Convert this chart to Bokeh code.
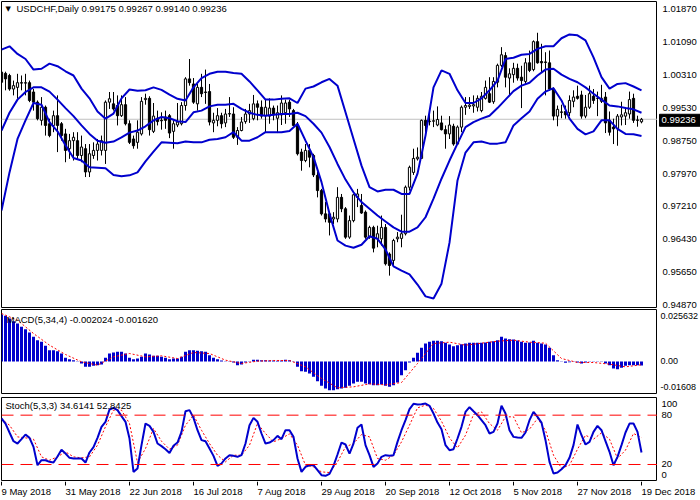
from bokeh.plotting import figure
from bokeh.layouts import column, row
from bokeh.models import Span, Label, Range1d, ColumnDataSource
from bokeh.core.properties import value
from bokeh.embed import file_html
from bokeh.resources import INLINE

# ---------------- data ----------------
open_ = [1.0035, 1.0032, 1.0027, 0.9995, 0.9999, 1.0010, 1.0009, 1.0010, 0.9988, 0.9964,
         0.9921, 0.9952, 0.9913, 0.9909, 0.9932, 0.9913, 0.9889, 0.9854, 0.9873, 0.9873,
         0.9838, 0.9854, 0.9799, 0.9838, 0.9850, 0.9850, 0.9850, 0.9964, 0.9960, 0.9956,
         0.9932, 0.9958, 0.9913, 0.9877, 0.9869, 0.9889, 0.9970, 0.9973, 0.9895, 0.9926,
         0.9921, 0.9929, 0.9932, 0.9895, 0.9910, 0.9913, 0.9956, 1.0019, 1.0007, 0.9960,
         0.9999, 0.9988, 0.9989, 0.9915, 0.9921, 0.9932, 0.9915, 0.9936, 0.9936, 0.9881,
         0.9897, 0.9918, 0.9936, 0.9925, 0.9960, 0.9952, 0.9932, 0.9931, 0.9950, 0.9926,
         0.9934, 0.9939, 0.9964, 0.9944, 0.9909, 0.9846, 0.9826, 0.9850, 0.9838, 0.9791,
         0.9755, 0.9700, 0.9700, 0.9688, 0.9688, 0.9739, 0.9712, 0.9645, 0.9684, 0.9739,
         0.9720, 0.9704, 0.9645, 0.9668, 0.9641, 0.9641, 0.9668, 0.9605, 0.9590, 0.9641,
         0.9642, 0.9653, 0.9763, 0.9798, 0.9830, 0.9831, 0.9921, 0.9918, 0.9919, 0.9910,
         0.9915, 0.9899, 0.9889, 0.9907, 0.9865, 0.9905, 0.9952, 0.9954, 0.9955, 0.9952,
         0.9944, 0.9973, 0.9984, 0.9965, 1.0011, 1.0051, 1.0074, 1.0021, 1.0029, 1.0044,
         1.0023, 1.0013, 1.0057, 1.0041, 1.0107, 1.0060, 1.0059, 1.0057, 0.9995, 0.9931,
         0.9941, 0.9942, 0.9939, 0.9966, 0.9978, 0.9981, 0.9931, 0.9952, 0.9978, 0.9973,
         0.9966, 0.9976, 0.9921, 0.9905, 0.9901, 0.9929, 0.9931, 0.9936, 0.9973, 0.9922,
         0.99175]
high_ = [1.0052, 1.0036, 1.0031, 1.0015, 1.0031, 1.0027, 1.0031, 1.0015, 0.9995, 0.9968,
         0.9976, 0.9956, 0.9925, 0.9944, 0.9980, 0.9917, 0.9901, 0.9889, 0.9893, 0.9893,
         0.9885, 0.9865, 0.9865, 0.9869, 0.9877, 0.9885, 0.9968, 0.9988, 0.9988, 0.9980,
         0.9980, 0.9976, 0.9921, 0.9885, 0.9921, 0.9976, 0.9984, 0.9978, 0.9962, 0.9944,
         0.9940, 0.9944, 0.9936, 0.9921, 0.9962, 0.9964, 1.0023, 1.0066, 1.0021, 1.0007,
         1.0031, 1.0041, 1.0007, 0.9939, 0.9950, 0.9939, 0.9948, 0.9976, 0.9952, 0.9905,
         0.9929, 0.9948, 0.9960, 0.9981, 0.9968, 0.9968, 0.9970, 0.9973, 0.9956, 0.9956,
         0.9980, 0.9970, 0.9970, 0.9948, 0.9917, 0.9854, 0.9865, 0.9865, 0.9842, 0.9799,
         0.9759, 0.9728, 0.9704, 0.9704, 0.9763, 0.9747, 0.9716, 0.9696, 0.9747, 0.9759,
         0.9747, 0.9708, 0.9672, 0.9672, 0.9672, 0.9696, 0.9676, 0.9609, 0.9641, 0.9657,
         0.9698, 0.9767, 0.9814, 0.9854, 0.9857, 0.9923, 0.9932, 0.9940, 0.9944, 0.9954,
         0.9932, 0.9909, 0.9931, 0.9913, 0.9909, 0.9956, 0.9976, 0.9976, 0.9980, 0.9980,
         0.9988, 1.0015, 1.0023, 1.0023, 1.0055, 1.0094, 1.0082, 1.0044, 1.0057, 1.0055,
         1.0050, 1.0068, 1.0086, 1.0110, 1.0128, 1.0102, 1.0082, 1.0086, 0.9999, 0.9956,
         0.9958, 0.9956, 0.9980, 0.9992, 1.0003, 0.9991, 0.9981, 1.0003, 0.9995, 0.9989,
         1.0005, 0.9988, 0.9942, 0.9925, 0.9936, 0.9965, 0.9952, 0.9989, 0.9984, 0.9932,
         0.99267]
low_ = [0.9999, 0.9992, 0.9991, 0.9980, 0.9972, 0.9992, 0.9980, 0.9964, 0.9944, 0.9921,
        0.9909, 0.9885, 0.9881, 0.9893, 0.9846, 0.9873, 0.9822, 0.9830, 0.9826, 0.9830,
        0.9822, 0.9787, 0.9787, 0.9830, 0.9826, 0.9838, 0.9818, 0.9948, 0.9944, 0.9909,
        0.9929, 0.9909, 0.9865, 0.9854, 0.9854, 0.9885, 0.9958, 0.9885, 0.9891, 0.9909,
        0.9899, 0.9901, 0.9879, 0.9854, 0.9905, 0.9909, 0.9944, 1.0003, 0.9960, 0.9944,
        0.9976, 0.9960, 0.9909, 0.9893, 0.9907, 0.9902, 0.9905, 0.9929, 0.9877, 0.9863,
        0.9895, 0.9913, 0.9915, 0.9921, 0.9921, 0.9925, 0.9893, 0.9913, 0.9921, 0.9891,
        0.9910, 0.9913, 0.9929, 0.9907, 0.9838, 0.9802, 0.9822, 0.9810, 0.9787, 0.9739,
        0.9696, 0.9680, 0.9649, 0.9676, 0.9680, 0.9704, 0.9641, 0.9641, 0.9680, 0.9716,
        0.9700, 0.9641, 0.9641, 0.9609, 0.9621, 0.9625, 0.9578, 0.9554, 0.9578, 0.9633,
        0.9621, 0.9649, 0.9755, 0.9792, 0.9826, 0.9830, 0.9885, 0.9909, 0.9905, 0.9907,
        0.9897, 0.9854, 0.9877, 0.9861, 0.9863, 0.9893, 0.9934, 0.9948, 0.9939, 0.9942,
        0.9940, 0.9970, 0.9962, 0.9960, 0.9999, 1.0047, 0.9999, 0.9980, 1.0010, 1.0015,
        0.9950, 1.0007, 1.0035, 1.0037, 1.0055, 1.0035, 0.9980, 0.9991, 0.9921, 0.9907,
        0.9926, 0.9925, 0.9931, 0.9952, 0.9970, 0.9925, 0.9926, 0.9948, 0.9960, 0.9931,
        0.9962, 0.9891, 0.9885, 0.9865, 0.9861, 0.9909, 0.9910, 0.9925, 0.9915, 0.9906,
        0.99140]
close_ = [1.0011, 1.0019, 0.9995, 1.0003, 1.0010, 1.0009, 1.0010, 0.9968, 0.9964, 0.9925,
          0.9952, 0.9909, 0.9885, 0.9932, 0.9909, 0.9885, 0.9850, 0.9873, 0.9881, 0.9838,
          0.9858, 0.9799, 0.9842, 0.9850, 0.9865, 0.9873, 0.9964, 0.9972, 0.9948, 0.9932,
          0.9958, 0.9913, 0.9869, 0.9861, 0.9893, 0.9966, 0.9973, 0.9899, 0.9931, 0.9918,
          0.9920, 0.9921, 0.9891, 0.9913, 0.9917, 0.9956, 1.0019, 1.0010, 0.9964, 0.9999,
          0.9984, 0.9987, 0.9917, 0.9921, 0.9932, 0.9913, 0.9936, 0.9937, 0.9881, 0.9897,
          0.9917, 0.9936, 0.9944, 0.9960, 0.9952, 0.9931, 0.9952, 0.9950, 0.9934, 0.9939,
          0.9962, 0.9962, 0.9948, 0.9909, 0.9842, 0.9826, 0.9850, 0.9834, 0.9792, 0.9755,
          0.9700, 0.9688, 0.9680, 0.9692, 0.9739, 0.9712, 0.9645, 0.9684, 0.9745, 0.9747,
          0.9702, 0.9645, 0.9668, 0.9619, 0.9653, 0.9668, 0.9582, 0.9578, 0.9637, 0.9645,
          0.9653, 0.9763, 0.9810, 0.9831, 0.9834, 0.9921, 0.9909, 0.9919, 0.9920, 0.9923,
          0.9899, 0.9889, 0.9910, 0.9865, 0.9905, 0.9952, 0.9956, 0.9957, 0.9958, 0.9973,
          0.9978, 0.9999, 0.9964, 1.0013, 1.0051, 1.0076, 1.0023, 1.0031, 1.0044, 1.0021,
          1.0015, 1.0057, 1.0039, 1.0107, 1.0057, 1.0057, 1.0058, 0.9995, 0.9931, 0.9947,
          0.9940, 0.9934, 0.9968, 0.9976, 0.9973, 0.9931, 0.9952, 0.9984, 0.9968, 0.9973,
          0.9973, 0.9915, 0.9893, 0.9901, 0.9931, 0.9934, 0.9939, 0.9970, 0.9921, 0.9921,
          0.99236]

# Bollinger bands, read at every second bar
bb_upper = [1.0088, 1.0096, 1.0078, 1.0066, 1.0041, 1.0043, 1.0055, 1.0049, 1.0037, 1.0027,
            0.9996, 0.9973, 0.9942, 0.9925, 0.9937, 0.9973, 0.9994, 0.9991, 0.9992, 0.9999,
            0.9993, 0.9982, 0.9972, 0.9968, 0.9999, 1.0021, 1.0031, 1.0036, 1.0036, 1.0033,
            1.0031, 1.0013, 0.9992, 0.9970, 0.9970, 0.9972, 0.9973, 0.9962, 0.9996, 1.0001,
            1.0011, 1.0019, 1.0003, 0.9940, 0.9877, 0.9814, 0.9763, 0.9753, 0.9757, 0.9757,
            0.9747, 0.9747, 0.9795, 0.9885, 0.9999, 1.0039, 1.0031, 0.9992, 0.9962, 0.9962,
            0.9973, 0.9992, 1.0015, 1.0066, 1.0069, 1.0076, 1.0078, 1.0090, 1.0096, 1.0096,
            1.0115, 1.0124, 1.0122, 1.0110, 1.0070, 1.0023, 0.9996, 1.0007, 1.0009, 1.0001,
            0.9992]
bb_middle = [0.9897, 0.9939, 0.9970, 0.9988, 0.9999, 0.9999, 0.9989, 0.9970, 0.9950, 0.9931,
             0.9909, 0.9889, 0.9873, 0.9868, 0.9871, 0.9881, 0.9892, 0.9897, 0.9907, 0.9921,
             0.9929, 0.9926, 0.9919, 0.9917, 0.9940, 0.9944, 0.9954, 0.9958, 0.9958, 0.9960,
             0.9948, 0.9939, 0.9934, 0.9932, 0.9934, 0.9936, 0.9936, 0.9939, 0.9931, 0.9913,
             0.9892, 0.9858, 0.9818, 0.9781, 0.9751, 0.9728, 0.9712, 0.9696, 0.9682, 0.9668,
             0.9658, 0.9658, 0.9668, 0.9692, 0.9736, 0.9783, 0.9826, 0.9866, 0.9905, 0.9917,
             0.9925, 0.9932, 0.9950, 0.9970, 0.9990, 1.0003, 1.0010, 1.0027, 1.0041, 1.0043,
             1.0029, 1.0019, 1.0011, 0.9999, 0.9984, 0.9970, 0.9956, 0.9954, 0.9950, 0.9947,
             0.9939]
bb_lower = [0.9708, 0.9798, 0.9877, 0.9921, 0.9962, 0.9958, 0.9917, 0.9895, 0.9862, 0.9832,
            0.9826, 0.9810, 0.9809, 0.9808, 0.9792, 0.9789, 0.9791, 0.9798, 0.9824, 0.9847,
            0.9869, 0.9868, 0.9867, 0.9871, 0.9869, 0.9869, 0.9875, 0.9877, 0.9881, 0.9893,
            0.9873, 0.9873, 0.9881, 0.9893, 0.9893, 0.9893, 0.9896, 0.9913, 0.9873, 0.9834,
            0.9775, 0.9700, 0.9637, 0.9625, 0.9620, 0.9627, 0.9647, 0.9641, 0.9616, 0.9576,
            0.9566, 0.9557, 0.9533, 0.9505, 0.9500, 0.9535, 0.9632, 0.9779, 0.9845, 0.9869,
            0.9871, 0.9866, 0.9866, 0.9869, 0.9909, 0.9926, 0.9942, 0.9972, 0.9989, 0.9997,
            0.9968, 0.9925, 0.9901, 0.9888, 0.9895, 0.9921, 0.9921, 0.9901, 0.9889, 0.9888,
            0.9884]

macd_main = [0.02334, 0.02267, 0.02135, 0.02003, 0.01887, 0.01721, 0.01605, 0.01440, 0.01225, 0.01059,
             0.00976, 0.00778, 0.00563, 0.00563, 0.00513, 0.00397, 0.00182, 0.00116, 0.00066, -0.00017,
             -0.00099, -0.00265, -0.00265, -0.00215, -0.00182, -0.00149, 0.00182, 0.00397, 0.00447, 0.00480,
             0.00480, 0.00397, 0.00182, 0.00116, 0.00149, 0.00232, 0.00397, 0.00348, 0.00281, 0.00281,
             0.00232, 0.00182, 0.00116, 0.00149, 0.00149, 0.00232, 0.00480, 0.00563, 0.00563, 0.00530,
             0.00513, 0.00480, 0.00314, 0.00182, 0.00116, 0.00050, 0.00017, 0.00017, -0.00050, -0.00182,
             -0.00149, -0.00050, -0.00017, 0.00083, 0.00083, 0.00066, 0.00066, 0.00050, 0.00050, 0.00033,
             0.00050, 0.00083, 0.00066, -0.00017, -0.00265, -0.00480, -0.00513, -0.00596, -0.00761, -0.00976,
             -0.01208, -0.01341, -0.01423, -0.01423, -0.01374, -0.01341, -0.01307, -0.01208, -0.01092, -0.01010,
             -0.01010, -0.01092, -0.01125, -0.01175, -0.01175, -0.01142, -0.01208, -0.01258, -0.01175, -0.01043,
             -0.00679, -0.00430, -0.00050, 0.00182, 0.00430, 0.00679, 0.00894, 0.00976, 0.01026, 0.01026,
             0.01010, 0.00927, 0.00844, 0.00761, 0.00811, 0.00861, 0.00894, 0.00927, 0.00927, 0.00927,
             0.00927, 0.00943, 0.00976, 0.01010, 0.01059, 0.01225, 0.01142, 0.01109, 0.01092, 0.01043,
             0.00976, 0.00927, 0.00943, 0.01026, 0.00927, 0.00894, 0.00844, 0.00679, 0.00314, 0.00066,
             -0.00017, -0.00066, -0.00033, -0.00017, -0.00050, -0.00099, -0.00050, -0.00017, -0.00017, -0.00017,
             -0.00017, -0.00099, -0.00182, -0.00348, -0.00381, -0.00314, -0.00215, -0.00182, -0.00182, -0.00182,
             -0.002024]
# MACD signal, read at every fourth bar
macd_signal = [0.02383, 0.02052, 0.01390, 0.00811, 0.00348, -0.00017, -0.00182, 0.00232, 0.00397, 0.00232,
               0.00281, 0.00149, 0.00447, 0.00397, 0.00066, -0.00099, 0.00017, 0.00050, 0.00050, -0.00265,
               -0.00844, -0.01307, -0.01258, -0.01109, -0.01159, -0.01043, -0.00099, 0.00894, 0.00960, 0.00811,
               0.00910, 0.01010, 0.01059, 0.00960, 0.00910, 0.00149, -0.00050, -0.00050, -0.00132, -0.00265,
               -0.00162]

stoch_k = [76.0, 69.8, 58.9, 48.3, 45.5, 50.8, 56.4, 52.4, 41.4, 19.1,
           25.2, 25.2, 23.2, 22.4, 29.7, 37.8, 33.3, 28.1, 27.3, 27.3,
           27.3, 22.4, 34.6, 41.0, 52.4, 65.8, 71.9, 86.9, 88.9, 86.1,
           78.8, 71.9, 51.6, 11.0, 15.1, 43.5, 69.8, 67.0, 59.7, 45.5,
           42.3, 38.6, 34.1, 42.7, 46.7, 59.7, 84.8, 86.1, 76.7, 61.7,
           49.6, 48.3, 39.4, 30.5, 18.3, 21.2, 27.3, 31.3, 30.5, 29.3,
           31.3, 45.5, 67.8, 76.7, 71.9, 57.7, 45.5, 46.7, 49.6, 54.8,
           50.8, 61.7, 61.7, 53.6, 27.3, 11.0, 17.1, 19.1, 19.1, 13.1,
           7.0, 6.2, 8.6, 18.3, 32.1, 46.7, 44.3, 33.3, 45.5, 64.6,
           68.6, 43.5, 31.3, 17.1, 21.2, 29.3, 31.3, 30.5, 31.3, 47.5,
           61.7, 73.9, 87.3, 93.8, 93.0, 93.4, 94.2, 91.4, 82.0, 71.0,
           62.9, 43.5, 37.4, 38.6, 51.6, 65.8, 84.0, 89.7, 84.8, 80.0,
           73.9, 67.8, 57.7, 59.7, 69.8, 91.4, 82.0, 61.7, 53.6, 52.8,
           52.4, 58.9, 73.9, 84.0, 78.0, 71.0, 49.6, 23.2, 9.0, 10.2,
           14.3, 19.1, 28.1, 43.5, 68.6, 55.6, 44.3, 47.5, 59.7, 67.0,
           61.7, 48.3, 35.4, 19.1, 29.3, 43.5, 58.9, 69.8, 69.8, 59.7,
           34.6141]
# Stochastic signal, read at every second bar
stoch_d = [75.1, 67.8, 53.6, 52.4, 50.8, 29.3, 25.2, 29.3, 35.4, 29.3,
           28.1, 29.3, 43.5, 66.0, 86.1, 86.1, 69.8, 22.4, 39.4, 63.8,
           48.3, 38.6, 43.5, 67.8, 80.0, 61.7, 45.5, 31.3, 23.2, 31.3,
           31.3, 43.5, 69.8, 57.7, 47.5, 51.6, 57.3, 43.5, 19.1, 17.1,
           11.0, 10.2, 23.2, 41.4, 45.5, 56.4, 53.6, 27.3, 25.2, 31.3,
           47.5, 67.8, 88.9, 92.2, 88.1, 72.7, 52.4, 40.2, 55.6, 80.8,
           84.0, 69.8, 61.7, 78.0, 78.0, 58.5, 62.9, 76.0, 61.7, 31.3,
           15.5, 19.1, 38.6, 55.6, 50.8, 58.5, 50.8, 27.3, 37.4, 57.7,
           52.8425]

date_tick_bars = [0, 16, 32, 48, 64, 80, 96, 112, 128, 144, 160]
date_tick_labels = ["9 May 2018", "31 May 2018", "22 Jun 2018", "16 Jul 2018", "7 Aug 2018",
                    "29 Aug 2018", "20 Sep 2018", "12 Oct 2018", "5 Nov 2018", "27 Nov 2018",
                    "19 Dec 2018"]
price_ticks = [1.01870, 1.01090, 1.00310, 0.99530, 0.98750, 0.97970, 0.97210, 0.96430, 0.95650, 0.94870]
price_tick_labels = ["1.01870", "1.01090", "1.00310", "0.99530", "0.98750",
                     "0.97970", "0.97210", "0.96430", "0.95650", "0.94870"]
macd_ticks = [0.02235, 0.0, -0.01291]
macd_tick_labels = ["0.025632", "0.00", "-0.01608"]
stoch_ticks = [93.8, 80.0, 20.0, 7.8]
stoch_tick_labels = ["100", "80", "20", "0"]

# ---------------- styling / layout ----------------
bars = list(range(len(close_)))
band_x = bars[::2]
sig_x = bars[::4]

FONT = "Liberation Sans"
FS = "9.5px"
BLUE = "#0000CD"
RED = "#FF0000"
FW = 656          # plot frame width (px) -> 4 px per bar
AXW = 43          # width of the right-hand price scale
PX_PER_BAR = FW / 164.0
BOX_HALF = 6 * (1.02043 - 0.94740) / 309.0   # half height of the current-price box

xr = Range1d(0.0, 164.0)


def panel(fh, yr, top, bottom):
    p = figure(frame_width=FW, frame_height=fh, x_range=xr, y_range=yr,
               output_backend="svg", toolbar_location=None,
               x_axis_location=None, y_axis_location=None,
               min_border_left=1, min_border_right=0,
               min_border_top=top, min_border_bottom=bottom)
    p.outline_line_color = "black"
    p.outline_line_width = 1
    p.xgrid.visible = False
    p.ygrid.visible = False
    p.background_fill_color = "white"
    p.border_fill_color = "white"
    return p


def scale(fh, yr, top, bottom, ticks, labels, lx=5, fs=FS):
    s = figure(frame_width=AXW, frame_height=fh, x_range=Range1d(0, AXW), y_range=yr,
               output_backend="svg", toolbar_location=None,
               x_axis_location=None, y_axis_location=None,
               min_border_left=0, min_border_right=0,
               min_border_top=top, min_border_bottom=bottom)
    s.outline_line_color = None
    s.xgrid.visible = False
    s.ygrid.visible = False
    s.background_fill_color = "white"
    s.border_fill_color = "white"
    s.text(x=[lx] * len(ticks), y=ticks, text=labels, text_font=value(FONT),
           text_font_size=value(fs), text_color="black", text_align="left",
           text_baseline="middle")
    return s


# ---------------- main price panel ----------------
p1 = panel(306, Range1d(0.94787, 1.02019), 1, 2)
p1.add_layout(Span(location=close_[-1], dimension="width", line_color="#C0C0C0",
                   line_width=1, level="underlay"))

colors = ["white" if c >= o else "black" for o, c in zip(open_, close_)]
src = ColumnDataSource(dict(x=bars, o=open_, h=high_, l=low_, c=close_,
                            top=[max(o, c) for o, c in zip(open_, close_)],
                            bot=[min(o, c) for o, c in zip(open_, close_)],
                            col=colors))
p1.segment(x0="x", y0="l", x1="x", y1="h", source=src, line_color="black", line_width=1)
p1.vbar(x="x", width=0.55, top="top", bottom="bot", source=src,
        fill_color="col", line_color="black", line_width=1)

for band in (bb_upper, bb_middle, bb_lower):
    p1.line(band_x, band, line_color=BLUE, line_width=2)

p1.add_layout(Label(x=1.0, y=1.01853, text="\u25BC", text_font="DejaVu Sans",
                    text_font_size="7px", text_color="black", text_baseline="middle"))
p1.add_layout(Label(x=3.75, y=1.01853,
                    text="USDCHF,Daily  %.5f %.5f %.5f %.5f" % (open_[-1], high_[-1], low_[-1], close_[-1]),
                    text_font=FONT, text_font_size=FS, text_color="black",
                    text_baseline="middle"))

s1 = scale(309, Range1d(0.94740, 1.02043), 0, 0, price_ticks, price_tick_labels)
s1.quad(left=[2], right=[AXW], bottom=[close_[-1] - BOX_HALF], top=[close_[-1] + BOX_HALF],
        fill_color="black", line_color="black")
s1.text(x=[4], y=[close_[-1]], text=["%.5f" % close_[-1]], text_font=value(FONT),
        text_font_size=value(FS), text_color="white", text_align="left",
        text_baseline="middle")

# ---------------- MACD panel ----------------
macd_yr = Range1d(-0.01589, 0.02582)
p2 = panel(84, macd_yr, 0, 1)
p2.vbar(x=bars, width=0.75, top=macd_main, bottom=0, fill_color=BLUE, line_color=None)
p2.line(sig_x, macd_signal, line_color=RED, line_width=1, line_dash="2 2")
p2.add_layout(Label(x=1.25, y=0.0210,
                    text="MACD(5,34,4) %.6f %.6f" % (macd_main[-1], macd_signal[-1]),
                    text_font=FONT, text_font_size=FS, text_color="black",
                    text_baseline="middle"))
s2 = scale(84, macd_yr, 0, 1, macd_ticks, macd_tick_labels, lx=3, fs="9px")

# ---------------- Stochastic panel ----------------
st_yr = Range1d(-0.7, 101.5)
p3 = panel(84, st_yr, 3, 0)
for lvl in (80, 20):
    p3.add_layout(Span(location=lvl, dimension="width", line_color=RED,
                       line_width=1, line_dash="12 7"))
p3.line(band_x, stoch_d, line_color=RED, line_width=1, line_dash="2 2")
p3.line(bars, stoch_k, line_color=BLUE, line_width=2)
p3.add_layout(Label(x=1.0, y=91.7,
                    text="Stoch(5,3,3) %.4f %.4f" % (stoch_k[-1], stoch_d[-1]),
                    text_font=FONT, text_font_size=FS, text_color="black",
                    text_baseline="middle"))
s3 = scale(84, st_yr, 3, 0, stoch_ticks, stoch_tick_labels, lx=4)

# ---------------- date scale ----------------
DH = 19
pd_ = figure(frame_width=FW + 1 + AXW, frame_height=DH,
             x_range=Range1d(-1.0 / PX_PER_BAR, (FW + AXW) / PX_PER_BAR),
             y_range=Range1d(0, DH), output_backend="svg", toolbar_location=None,
             x_axis_location=None, y_axis_location=None,
             min_border_left=0, min_border_right=0, min_border_top=0, min_border_bottom=0)
pd_.outline_line_color = None
pd_.xgrid.visible = False
pd_.ygrid.visible = False
pd_.background_fill_color = "white"
pd_.border_fill_color = "white"
pd_.segment(x0=date_tick_bars, y0=[DH] * len(date_tick_bars), x1=date_tick_bars,
            y1=[DH - 4] * len(date_tick_bars), line_color="black", line_width=1)
pd_.text(x=date_tick_bars, y=[DH - 10] * len(date_tick_bars), text=date_tick_labels,
         text_font=value(FONT), text_font_size=value(FS), text_color="black",
         text_align="left", text_baseline="middle")

layout = column(row(p1, s1, spacing=0), row(p2, s2, spacing=0),
                row(p3, s3, spacing=0), pd_, spacing=0)

html = file_html(layout, INLINE, title="USDCHF Daily")
open("out.html", "w").write(html)
